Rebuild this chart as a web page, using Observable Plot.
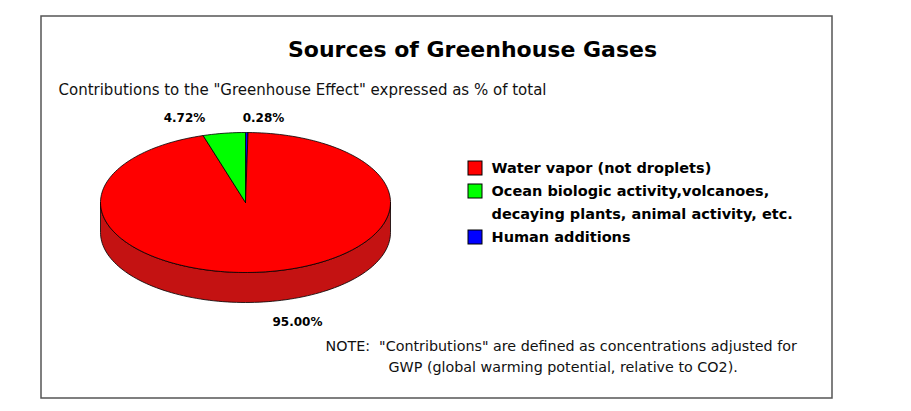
<!DOCTYPE html>
<html><head><meta charset="utf-8">
<script src="https://cdn.jsdelivr.net/npm/d3@7"></script>
<script src="https://cdn.jsdelivr.net/npm/@observablehq/plot@0.6"></script>
<style>body{margin:0;background:#fff}svg{font-family:"DejaVu Sans",sans-serif}</style>
</head><body><div id="c"></div>
<script>
const categories = ["Human additions", "Water vapor (not droplets)", "Ocean biologic activity,volcanoes,"];
const values = [0.28, 95.00, 4.72];
const colors = ["#0000ff", "#ff0000", "#00ff00"];
const sliceLabels = ["0.28%", "95.00%", "4.72%"];
const legendLabels = ["Water vapor (not droplets)", "Ocean biologic activity,volcanoes,", "decaying plants, animal activity, etc.", "Human additions"];
const legendColors = ["#ff0000", "#00ff00", null, "#0000ff"];

const cx = 245, cy = 202, rx = 145, ry = 70, depth = 30;
const pt = (f, dy = 0) => { const t = f * 2 * Math.PI; return [cx + rx * Math.sin(t), cy - ry * Math.cos(t) + dy]; };

const total = d3.sum(values);
let acc = 0;
const slices = [];
values.forEach((v, i) => {
  const a0 = acc / total, a1 = (acc + v) / total; acc += v;
  const n = Math.max(2, Math.ceil((a1 - a0) * 200));
  const pts = [[cx, cy]];
  for (let k = 0; k <= n; k++) pts.push(pt(a0 + (a1 - a0) * k / n));
  pts.push([cx, cy]);
  pts.forEach(p => slices.push({x: p[0], y: p[1], k: categories[i], c: colors[i]}));
});
const side = [];
for (let k = 0; k <= 100; k++) side.push(pt(0.25 + 0.5 * k / 100));
for (let k = 100; k >= 0; k--) side.push(pt(0.25 + 0.5 * k / 100, depth));
side.push(side[0]);
const sideData = side.map(p => ({x: p[0], y: p[1]}));

const labelPos = [{x: 263, y: 118}, {x: 297, y: 322}, {x: 184, y: 118}];
const labelData = sliceLabels.map((s, i) => ({...labelPos[i], s}));

const legY = [168, 191, 214, 237];
const legendBoxes = legendLabels.map((s, i) => ({s, c: legendColors[i], y: legY[i]})).filter(d => d.c);
const legendText = legendLabels.map((s, i) => ({s, y: legY[i]}));

const chart = Plot.plot({
  width: 911, height: 411, margin: 0,
  x: {type: "identity"}, y: {type: "identity"},
  marks: [
    Plot.rect([{x1: 41, x2: 832, y1: 16, y2: 398}], {x1: "x1", x2: "x2", y1: "y1", y2: "y2", fill: "white", stroke: "#555", strokeWidth: 1.5}),
    Plot.line(sideData, {x: "x", y: "y", fill: "#c41212", stroke: "#000", strokeWidth: 0.8}),
    Plot.line(slices, {x: "x", y: "y", z: "k", fill: "c", stroke: "#000", strokeWidth: 0.8}),
    Plot.text(labelData, {x: "x", y: "y", text: "s", fontWeight: "bold", fontSize: 12, fill: "black"}),
    Plot.rect(legendBoxes, {x1: 468, x2: 482, y1: d => d.y - 7, y2: d => d.y + 7, fill: "c", stroke: "#000"}),
    Plot.text(legendText, {x: 491, y: "y", text: "s", textAnchor: "start", fontWeight: "bold", fontSize: 14.5, fill: "black"}),
    Plot.text(["Sources of Greenhouse Gases"], {x: 472, y: 49, text: d => d, fontWeight: "bold", fontSize: 22, fill: "black"}),
    Plot.text(["Contributions to the \"Greenhouse Effect\" expressed as % of total"], {x: 58, y: 90, text: d => d, textAnchor: "start", fontSize: 15, fill: "#111"}),
    Plot.text(["NOTE:  \"Contributions\" are defined as concentrations adjusted for"], {x: 325, y: 346, text: d => d, textAnchor: "start", fontSize: 14.3, fill: "#111"}),
    Plot.text(["GWP (global warming potential, relative to CO2)."], {x: 388, y: 367, text: d => d, textAnchor: "start", fontSize: 14.3, fill: "#111"})
  ]
});
document.getElementById("c").appendChild(chart);
</script></body></html>
